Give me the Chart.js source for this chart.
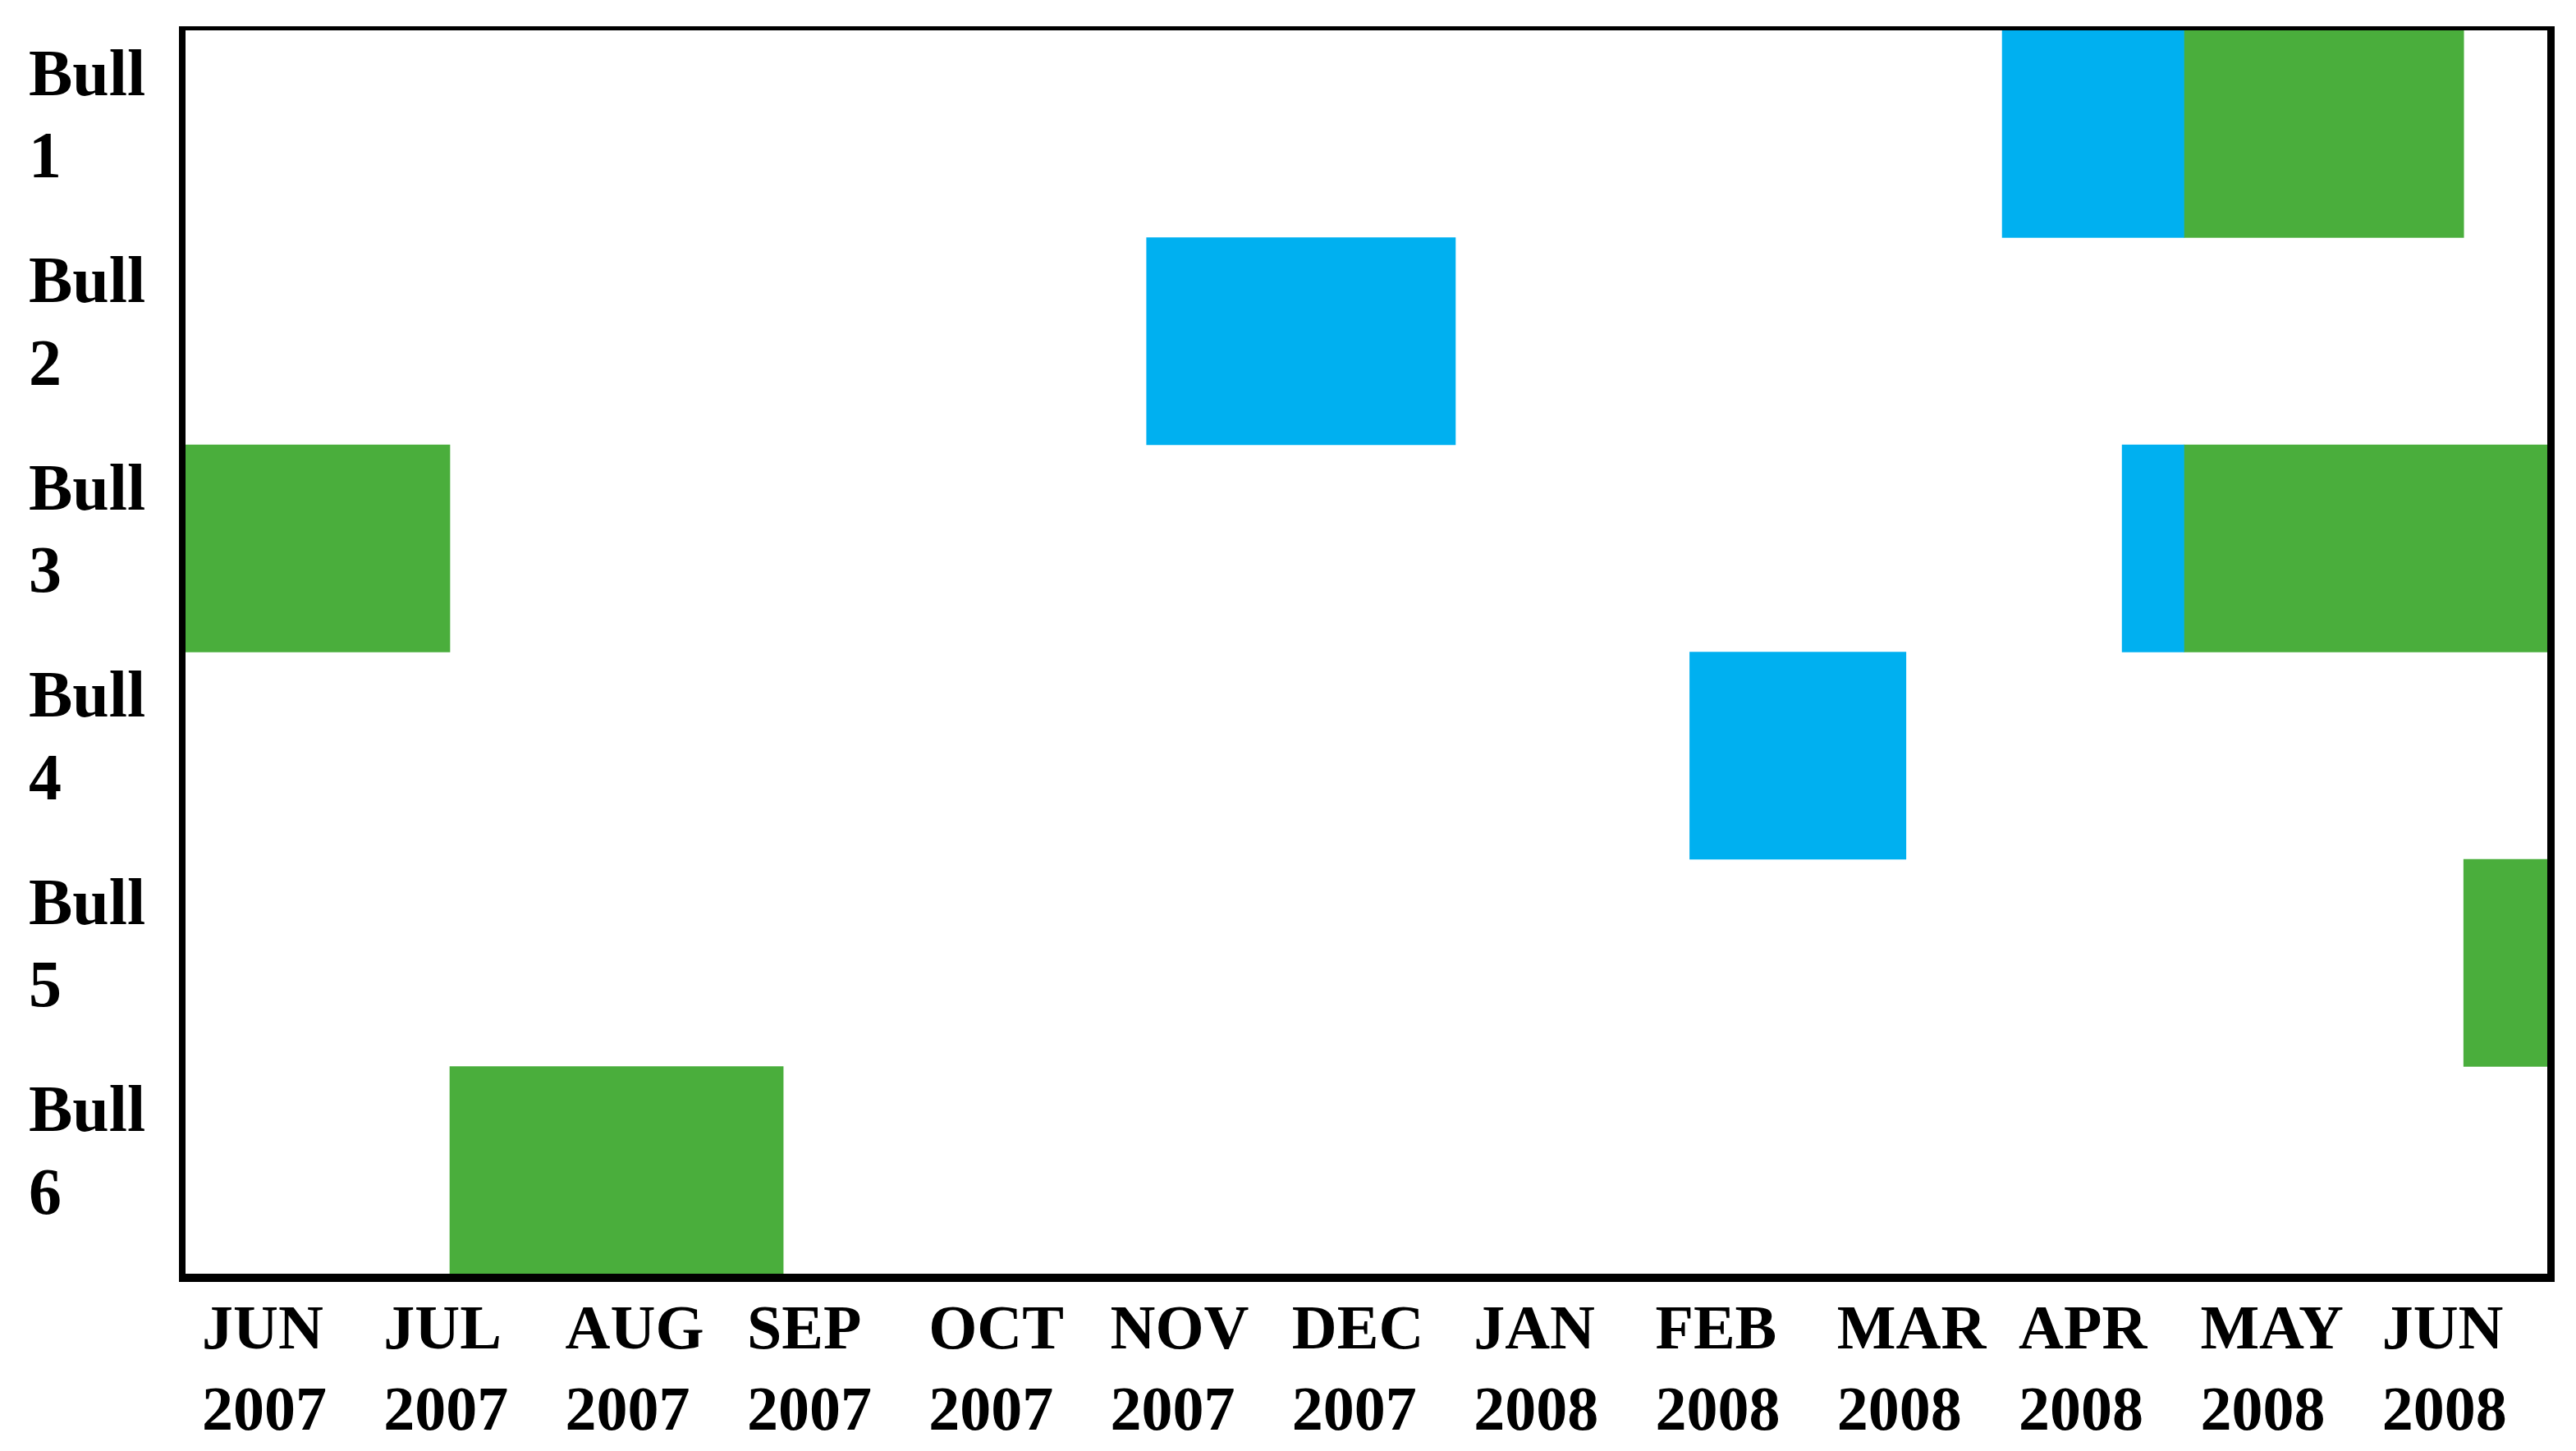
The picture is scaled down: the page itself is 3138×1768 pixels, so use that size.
<!DOCTYPE html>
<html>
<head>
<meta charset="utf-8">
<script src="https://cdn.jsdelivr.net/npm/chart.js@4.4.0/dist/chart.umd.min.js"></script>
<style>
  html, body { margin: 0; padding: 0; background: #fff; }
  #wrap { width: 3138px; height: 1768px; }
</style>
</head>
<body>
<div id="wrap"><canvas id="gantt-chart"></canvas></div>
<script>
// rows and month ticks (x axis is in months, 0 = start of Jun 2007)
const bulls = [['Bull', '1'], ['Bull', '2'], ['Bull', '3'], ['Bull', '4'], ['Bull', '5'], ['Bull', '6']];
const months = [
    ['JUN', '2007'], ['JUL', '2007'], ['AUG', '2007'], ['SEP', '2007'], ['OCT', '2007'], ['NOV', '2007'],
    ['DEC', '2007'], ['JAN', '2008'], ['FEB', '2008'], ['MAR', '2008'], ['APR', '2008'], ['MAY', '2008'], ['JUN', '2008']
];

// periods per bull as [start, end] in months
const bluePeriods = [[10, 11], [5.29, 6.99], [10.66, 11], [8.28, 9.47], null, null];
const greenPeriods = [[11, 12.54], null, [0, 1.455], null, [12.54, 13], [1.455, 3.29]];
const greenPeriods2 = [null, null, [11, 13], null, null, null];

const blue = '#00B0F0';
const green = '#4AAE3C';

// thick black frame round the plot area
const frame = {
    id: 'frame',
    afterDatasetsDraw(chart) {
        const a = chart.chartArea;
        const ctx = chart.ctx;
        ctx.save();
        ctx.fillStyle = '#000';
        ctx.fillRect(a.left - 8, a.top - 5, 8, a.bottom - a.top + 15);
        ctx.fillRect(a.left - 8, a.top - 5, a.right - a.left + 17, 5);
        ctx.fillRect(a.right, a.top - 5, 9, a.bottom - a.top + 15);
        ctx.fillRect(a.left - 8, a.bottom, a.right - a.left + 17, 10);
        ctx.restore();
    }
};

var chart = document.getElementById('gantt-chart');

let ganttChart = new Chart(chart, {
    type: 'bar',
    data: {
        labels: bulls,
        datasets: [
            { label: 'blue', data: bluePeriods, backgroundColor: blue },
            { label: 'green', data: greenPeriods, backgroundColor: green },
            { label: 'green2', data: greenPeriods2, backgroundColor: green }
        ]
    },
    options: {
        indexAxis: 'y',
        responsive: true,
        maintainAspectRatio: false,
        animation: false,
        grouped: false,
        barPercentage: 1,
        categoryPercentage: 1,
        borderWidth: 0,
        layout: { padding: { left: 35, top: 37, right: 35, bottom: 0 } },
        plugins: {
            legend: { display: false },
            tooltip: { enabled: false }
        },
        scales: {
            x: {
                type: 'linear',
                min: 0,
                max: 13,
                grid: { display: false, drawTicks: false },
                border: { display: false },
                ticks: {
                    stepSize: 1,
                    align: 'start',
                    labelOffset: 20,
                    padding: 22,
                    maxRotation: 0,
                    autoSkip: false,
                    color: '#000',
                    font: { family: 'Liberation Serif', size: 76, weight: 'bold', lineHeight: 1.3 },
                    callback: (v) => months[v]
                },
                afterFit: (s) => { s.height = 216; s.paddingLeft = 0; s.paddingRight = 0; }
            },
            y: {
                grid: { display: false, drawTicks: false },
                border: { display: false },
                ticks: {
                    crossAlign: 'far',
                    labelOffset: -18,
                    color: '#000',
                    font: { family: 'Liberation Serif', size: 80, weight: 'bold', lineHeight: 1.26 }
                },
                afterFit: (s) => { s.width = 191; s.paddingTop = 0; s.paddingBottom = 0; }
            }
        }
    },
    plugins: [frame]
});
</script>
</body>
</html>
